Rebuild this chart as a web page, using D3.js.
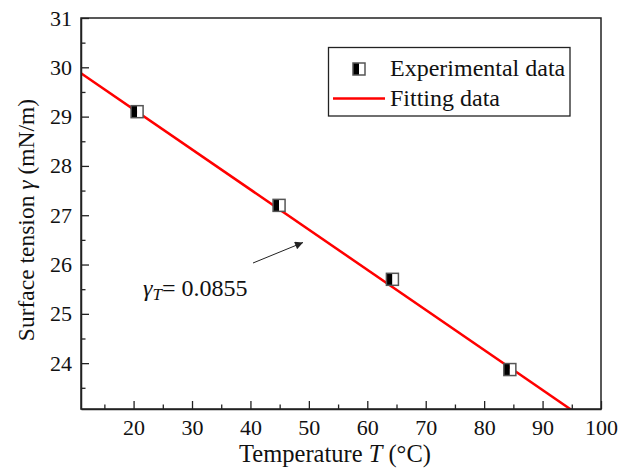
<!DOCTYPE html>
<html><head><meta charset="utf-8">
<script src="https://cdn.jsdelivr.net/npm/d3@7"></script>
<style>body{margin:0;background:#fff}svg text{font-family:"Liberation Serif","Times New Roman",serif}</style>
</head><body><svg id="c" width="620" height="470"></svg>
<script>
const expT = [20.6, 44.9, 64.3, 84.4];
const expGamma = [29.1, 27.2, 25.7, 23.87];
const fitT = [11, 100];
const fitGamma = [29.88, 22.64];
const xTicks = [20, 30, 40, 50, 60, 70, 80, 90, 100];
const yTicks = [24, 25, 26, 27, 28, 29, 30, 31];
const xMinor = d3.range(15, 100, 10);
const yMinor = d3.range(23.5, 31, 1);

const svg = d3.select("#c");
const L = 81, R = 601, T = 18, B = 409;
const x = d3.scaleLinear().domain([11, 100]).range([L, R]);
const y = d3.scaleLinear().domain([23.07, 31]).range([B, T]);
const ink = "#222";

svg.append("defs").append("clipPath").attr("id", "clip")
  .append("rect").attr("x", L).attr("y", T).attr("width", R - L).attr("height", B - T);
svg.select("defs").append("marker").attr("id", "ah").attr("viewBox", "0 0 10 10")
  .attr("refX", 10).attr("refY", 5).attr("markerWidth", 11).attr("markerHeight", 8)
  .attr("markerUnits", "userSpaceOnUse").attr("orient", "auto")
  .append("path").attr("d", "M0,0 L10,5 L0,10 Z").attr("fill", ink);

// fit line
const line = d3.line().x(d => x(d[0])).y(d => y(d[1]));
svg.append("path").datum(fitT.map((t, i) => [t, fitGamma[i]]))
  .attr("d", line).attr("stroke", "#f00").attr("stroke-width", 2.5).attr("fill", "none")
  .attr("clip-path", "url(#clip)");

// axes
svg.append("g").attr("transform", `translate(0,${B})`)
  .call(d3.axisBottom(x).tickValues(xTicks).tickSizeInner(-8).tickSizeOuter(0).tickPadding(10));
svg.append("g").attr("transform", `translate(0,${B})`)
  .call(d3.axisBottom(x).tickValues(xMinor).tickSizeInner(-4.5).tickSizeOuter(0).tickFormat(""))
  .select(".domain").remove();
svg.append("g").attr("transform", `translate(${L},0)`)
  .call(d3.axisLeft(y).tickValues(yTicks).tickSizeInner(-8).tickSizeOuter(0).tickPadding(9));
svg.append("g").attr("transform", `translate(${L},0)`)
  .call(d3.axisLeft(y).tickValues(yMinor).tickSizeInner(-4.5).tickSizeOuter(0).tickFormat(""))
  .select(".domain").remove();
svg.selectAll(".tick line").attr("stroke", ink).attr("stroke-width", 1.3);
svg.selectAll(".domain").attr("stroke", ink).attr("stroke-width", 1.5);
svg.selectAll("g").attr("font-family", null);
svg.selectAll(".tick text").attr("font-size", 22).attr("fill", "#111");
svg.append("rect").attr("x", L).attr("y", T).attr("width", R - L).attr("height", B - T)
  .attr("fill", "none").attr("stroke", ink).attr("stroke-width", 1.5);

// markers
function marker(g, cx, cy) {
  const s = 12;
  g.append("rect").attr("x", cx - s / 2).attr("y", cy - s / 2).attr("width", s / 2).attr("height", s).attr("fill", "#000");
  g.append("rect").attr("x", cx).attr("y", cy - s / 2).attr("width", s / 2).attr("height", s).attr("fill", "#fff");
  g.append("rect").attr("x", cx - s / 2).attr("y", cy - s / 2).attr("width", s).attr("height", s)
    .attr("fill", "none").attr("stroke", "#555").attr("stroke-width", 1.5);
}
const mg = svg.append("g");
expT.forEach((t, i) => marker(mg, x(t), y(expGamma[i])));

// legend
svg.append("rect").attr("x", 328.5).attr("y", 47.5).attr("width", 241.5).attr("height", 68.5)
  .attr("fill", "#fff").attr("stroke", ink).attr("stroke-width", 1.3);
marker(svg.append("g"), 359, 69);
svg.append("text").attr("x", 390).attr("y", 76).attr("font-size", 24).text("Experimental data");
svg.append("line").attr("x1", 333).attr("x2", 385).attr("y1", 98.5).attr("y2", 98.5)
  .attr("stroke", "#f00").attr("stroke-width", 2.5);
svg.append("text").attr("x", 390).attr("y", 106).attr("font-size", 24).text("Fitting data");

// annotation
svg.append("line").attr("x1", 253).attr("y1", 263).attr("x2", 303).attr("y2", 242.5)
  .attr("stroke", ink).attr("stroke-width", 1).attr("marker-end", "url(#ah)");
const ann = svg.append("text").attr("x", 143).attr("y", 296).attr("font-size", 24);
ann.append("tspan").attr("font-style", "italic").text("γ");
ann.append("tspan").attr("font-style", "italic").attr("font-size", 17).attr("dy", 4).text("T");
ann.append("tspan").attr("dy", -4).text("= 0.0855");

// axis titles
const xt = svg.append("text").attr("x", 335).attr("y", 462).attr("text-anchor", "middle").attr("font-size", 24.5);
xt.append("tspan").text("Temperature ");
xt.append("tspan").attr("font-style", "italic").text("T");
xt.append("tspan").text(" (°C)");
const yt = svg.append("text").attr("transform", "translate(34,220) rotate(-90)")
  .attr("text-anchor", "middle").attr("font-size", 23.5);
yt.append("tspan").text("Surface tension ");
yt.append("tspan").attr("font-style", "italic").text("γ");
yt.append("tspan").text(" (mN/m)");

svg.selectAll("text").style("fill", "#111");
</script></body></html>
